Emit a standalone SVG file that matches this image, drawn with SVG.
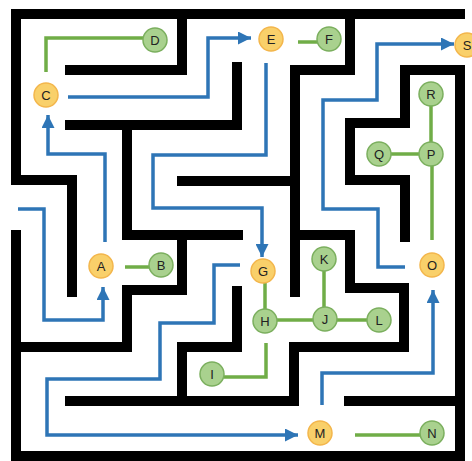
<svg xmlns="http://www.w3.org/2000/svg" width="472" height="461" viewBox="0 0 472 461">
<style>
.wall{fill:none;stroke:#000;stroke-width:10;stroke-linejoin:miter;stroke-linecap:butt}
.bl{fill:none;stroke:#2E75B6;stroke-width:3.5;stroke-linejoin:miter;marker-end:url(#ah)}
.gl{fill:none;stroke:#70AD47;stroke-width:3.5;stroke-linejoin:miter}
.o{fill:#F9D06A;stroke:#F3B64C;stroke-width:1.5}
.g{fill:#A9D18E;stroke:#7BAF5E;stroke-width:1.5}
text{font-family:"Liberation Sans",Arial,sans-serif;font-size:13px;fill:#222;text-anchor:middle;dominant-baseline:central}
</style>
<defs>
<marker id="ah" viewBox="0 0 10 10" refX="10" refY="5" markerWidth="13" markerHeight="13" markerUnits="userSpaceOnUse" orient="auto">
<path d="M0,0 L10,5 L0,10 z" fill="#2E75B6"/>
</marker>
</defs>
<rect width="472" height="461" fill="#fff"/>
<g id="walls">
<path class="wall" d="M465 14 H16 V180 H72 V297"/>
<path class="wall" d="M16 230 V456 H460 V70 H405 V123 H350 V180 H405 V242"/>
<path class="wall" d="M65 70 H182 V14"/>
<path class="wall" d="M65 125 H237 V62"/>
<path class="wall" d="M127 125 V235 H243"/>
<path class="wall" d="M182 235 V290 H127 V347 H20"/>
<path class="wall" d="M350 14 V70 H295 V297"/>
<path class="wall" d="M177 181 H295"/>
<path class="wall" d="M295 235 H350 V288 H404 V347 H294 V401 H65"/>
<path class="wall" d="M237 286 V347 H182 V401"/>
<path class="wall" d="M344 401 H460"/>
</g>
<g id="connectors">
<path class="bl" d="M18 209 H44 V320 H103 V287"/>
<path class="bl" d="M105 242 V154 H48 V115"/>
<path class="bl" d="M68 97 H208 V38 H251"/>
<path class="bl" d="M266 63 V155 H153 V208 H262 V257"/>
<path class="bl" d="M240 265 H214 V323 H160 V379 H47 V435 H298"/>
<path class="bl" d="M322 405 V373 H433 V290"/>
<path class="bl" d="M405 267 H378 V209 H323 V100 H377 V44 H454"/>
<path class="gl" d="M46 72 V38 H144"/>
<path class="gl" d="M298 42 H318"/>
<path class="gl" d="M125 267 H150"/>
<path class="gl" d="M431 105 V143"/>
<path class="gl" d="M390 154 H420"/>
<path class="gl" d="M432 165 V240"/>
<path class="gl" d="M265 283 V310"/>
<path class="gl" d="M324 271 V309"/>
<path class="gl" d="M276 320 H368"/>
<path class="gl" d="M266 343 V377 H224"/>
<path class="gl" d="M355 435 H421"/>
</g>
<g id="A"><circle class="o" cx="101" cy="266" r="12"/><text x="101" y="266">A</text></g>
<g id="B"><circle class="g" cx="161" cy="265" r="12"/><text x="161" y="265">B</text></g>
<g id="C"><circle class="o" cx="46" cy="95" r="12"/><text x="46" y="95">C</text></g>
<g id="D"><circle class="g" cx="155" cy="40" r="12"/><text x="155" y="40">D</text></g>
<g id="E"><circle class="o" cx="271" cy="39" r="12"/><text x="271" y="39">E</text></g>
<g id="F"><circle class="g" cx="329" cy="39" r="12"/><text x="329" y="39">F</text></g>
<g id="G"><circle class="o" cx="263" cy="271" r="12"/><text x="263" y="271">G</text></g>
<g id="H"><circle class="g" cx="265" cy="321" r="12"/><text x="265" y="321">H</text></g>
<g id="I"><circle class="g" cx="212" cy="374" r="12"/><text x="212" y="374">I</text></g>
<g id="J"><circle class="g" cx="325" cy="319" r="12"/><text x="325" y="319">J</text></g>
<g id="K"><circle class="g" cx="324" cy="259" r="12"/><text x="324" y="259">K</text></g>
<g id="L"><circle class="g" cx="379" cy="320" r="12"/><text x="379" y="320">L</text></g>
<g id="M"><circle class="o" cx="320" cy="433" r="12"/><text x="320" y="433">M</text></g>
<g id="N"><circle class="g" cx="432" cy="433" r="12"/><text x="432" y="433">N</text></g>
<g id="O"><circle class="o" cx="432" cy="265" r="12"/><text x="432" y="265">O</text></g>
<g id="P"><circle class="g" cx="431" cy="154" r="12"/><text x="431" y="154">P</text></g>
<g id="Q"><circle class="g" cx="379" cy="154" r="12"/><text x="379" y="154">Q</text></g>
<g id="R"><circle class="g" cx="431" cy="94" r="12"/><text x="431" y="94">R</text></g>
<g id="S"><circle class="o" cx="467" cy="45" r="12"/><text x="467" y="45">S</text></g>
</svg>
